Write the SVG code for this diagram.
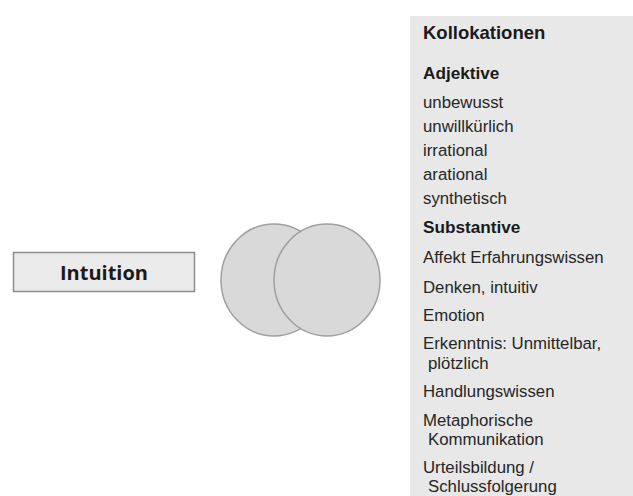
<svg xmlns="http://www.w3.org/2000/svg" width="633" height="496" viewBox="0 0 633 496">
<style>
.t{font-family:"Liberation Sans",Arial,sans-serif;font-size:16.8px;fill:#262626}
.b{font-weight:bold;fill:#1a1a1a}
.h{font-size:18.5px}
.s{font-size:17.2px}
.circ{fill:#d9d9d9;stroke:#a0a0a0;stroke-width:1.5}
</style>
<rect width="633" height="496" fill="#ffffff"/>
<g id="panel">
<rect x="410" y="16" width="223" height="480" fill="#e8e8e8"/>
<text class="t b h" x="423" y="39">Kollokationen</text>
<text class="t b s" x="423" y="79">Adjektive</text>
<text class="t" x="423" y="108">unbewusst</text>
<text class="t" x="423" y="132">unwillkürlich</text>
<text class="t" x="423" y="156">irrational</text>
<text class="t" x="423" y="180">arational</text>
<text class="t" x="423" y="204">synthetisch</text>
<text class="t b s" x="423" y="233">Substantive</text>
<text class="t" x="423" y="263">Affekt Erfahrungswissen</text>
<text class="t" x="423" y="293">Denken, intuitiv</text>
<text class="t" x="423" y="321">Emotion</text>
<text class="t" x="423" y="349">Erkenntnis: Unmittelbar,</text>
<text class="t" x="428" y="369">plötzlich</text>
<text class="t" x="423" y="397">Handlungswissen</text>
<text class="t" x="423" y="426">Metaphorische</text>
<text class="t" x="428" y="445">Kommunikation</text>
<text class="t" x="423" y="473">Urteilsbildung /</text>
<text class="t" x="428" y="492">Schlussfolgerung</text>
</g>
<g id="intuition">
<rect x="13.5" y="252.5" width="181" height="39" fill="#ebebeb" stroke="#8f8f8f" stroke-width="1.5"/>
<text x="104" y="280" text-anchor="middle" font-family="'Open Sans','Liberation Sans',sans-serif" font-weight="bold" font-size="20" fill="#1a1a1a">Intuition</text>
</g>
<g id="venn">
<ellipse class="circ" cx="274" cy="280" rx="53" ry="56"/>
<ellipse class="circ" cx="327" cy="280" rx="53" ry="56"/>
</g>
</svg>
